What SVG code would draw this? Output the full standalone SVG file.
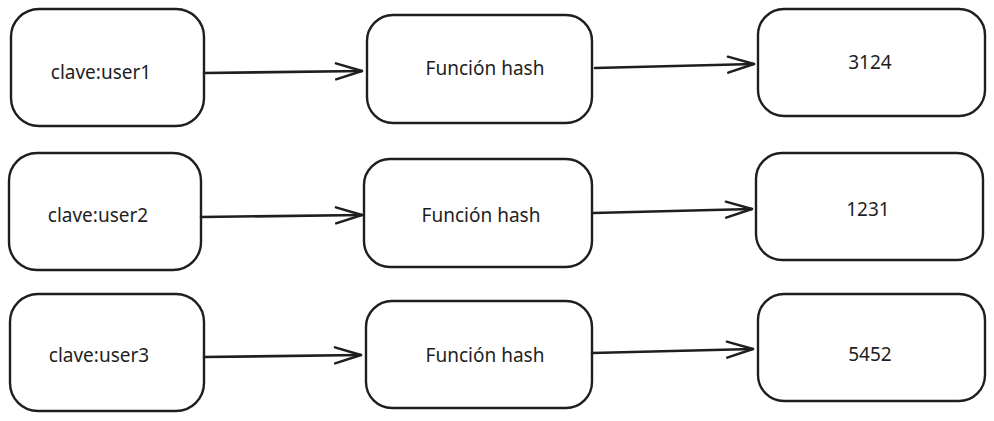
<svg xmlns="http://www.w3.org/2000/svg" width="994" height="421" viewBox="0 0 994 421">
<defs>
<style>
.n{fill:#fff;stroke:#1e1e1e;stroke-width:2.4}
.t{font-family:"Noto Sans",sans-serif;font-size:19px;fill:#1e1e1e;text-anchor:middle;dominant-baseline:central}
.c{stroke:#1e1e1e;stroke-width:2.6;fill:none;stroke-linecap:round;stroke-linejoin:round}
</style>
<marker id="a" viewBox="0 0 30 20" refX="28" refY="10" markerWidth="30" markerHeight="20" markerUnits="userSpaceOnUse" orient="auto">
<path d="M2,2 L28,10 L2,18" fill="none" stroke="#1e1e1e" stroke-width="2.4" stroke-linecap="round" stroke-linejoin="round"/>
</marker>
</defs>
<rect width="994" height="421" fill="#fff"/>
<g id="k1"><rect class="n" x="11" y="9" width="193" height="117" rx="28"/><text class="t" x="101" y="72">clave:user1</text></g>
<g id="h1"><rect class="n" x="367" y="15" width="225" height="108" rx="26"/><text class="t" x="485" y="68">Función hash</text></g>
<g id="v1"><rect class="n" x="758" y="9" width="227" height="107" rx="26"/><text class="t" x="870" y="62">3124</text></g>
<g id="k2"><rect class="n" x="9" y="153" width="192" height="117" rx="28"/><text class="t" x="98" y="215">clave:user2</text></g>
<g id="h2"><rect class="n" x="364" y="159" width="228" height="108" rx="26"/><text class="t" x="481" y="215">Función hash</text></g>
<g id="v2"><rect class="n" x="756" y="153" width="227" height="107" rx="26"/><text class="t" x="868" y="209">1231</text></g>
<g id="k3"><rect class="n" x="10" y="294" width="194" height="117" rx="28"/><text class="t" x="99" y="355">clave:user3</text></g>
<g id="h3"><rect class="n" x="366" y="301" width="226" height="107" rx="26"/><text class="t" x="485" y="355">Función hash</text></g>
<g id="v3"><rect class="n" x="758" y="294" width="227" height="107" rx="26"/><text class="t" x="870" y="354">5452</text></g>
<g id="connectors">
<path class="c" d="M204,73 L362,71" marker-end="url(#a)"/>
<path class="c" d="M595,68 L754,64" marker-end="url(#a)"/>
<path class="c" d="M201,217 L362,215" marker-end="url(#a)"/>
<path class="c" d="M593,213 L752,209" marker-end="url(#a)"/>
<path class="c" d="M204,357 L361,355" marker-end="url(#a)"/>
<path class="c" d="M592,353 L753,349" marker-end="url(#a)"/>
</g>
</svg>
